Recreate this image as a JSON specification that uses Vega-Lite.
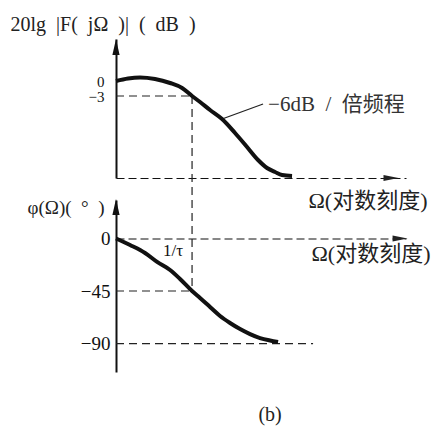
{
  "$schema": "https://vega.github.io/schema/vega-lite/v6.json",
  "background": "white",
  "padding": {"left": 10, "top": 14, "right": 2, "bottom": 5},
  "bounds": "flush",
  "spacing": 22,
  "config": {
    "view": {"stroke": null},
    "font": "Liberation Serif",
    "axis": {
      "grid": false,
      "ticks": false,
      "tickSize": 0,
      "labelFont": "Liberation Serif",
      "titleFont": "Liberation Serif, Noto Sans CJK SC",
      "titleFontWeight": "normal",
      "labelColor": "#111",
      "titleColor": "#222",
      "domainColor": "#111"
    }
  },
  "datasets": {
    "mag": [
      {"omega": 0.1, "value": 0},
      {"omega": 0.144, "value": 0.5},
      {"omega": 0.207, "value": 0.7},
      {"omega": 0.326, "value": 0.4},
      {"omega": 0.514, "value": -0.4},
      {"omega": 0.739, "value": -1.4},
      {"omega": 1.0, "value": -3.0},
      {"omega": 1.274, "value": -4.2},
      {"omega": 1.724, "value": -5.8},
      {"omega": 2.48, "value": -7.6},
      {"omega": 3.675, "value": -10.4},
      {"omega": 5.287, "value": -13.2},
      {"omega": 7.375, "value": -15.8},
      {"omega": 9.685, "value": -17.4},
      {"omega": 12.34, "value": -18.2},
      {"omega": 15.25, "value": -18.8},
      {"omega": 20.64, "value": -19.0}
    ],
    "magRefs": [
      {"omega": 0.1, "omega2": 1, "value": -3, "value2": -3},
      {"omega": 1, "omega2": 1, "value": -3, "value2": -23.8}
    ],
    "magNotes": [
      {"omega": 10, "value": -4.8, "label": "−6dB \u00a0/\u00a0 倍频程"}
    ],
    "magLeader": [
      {"omega": 2.48, "omega2": 8.58, "value": -7.6, "value2": -4.6}
    ],
    "phase": [
      {"omega": 0.1, "value": 0},
      {"omega": 0.153, "value": -5.6},
      {"omega": 0.241, "value": -12.4},
      {"omega": 0.347, "value": -20.1},
      {"omega": 0.514, "value": -27.0},
      {"omega": 0.695, "value": -34.7},
      {"omega": 1.0, "value": -45.0},
      {"omega": 1.274, "value": -51.0},
      {"omega": 1.724, "value": -58.7},
      {"omega": 2.334, "value": -66.4},
      {"omega": 3.159, "value": -72.4},
      {"omega": 4.276, "value": -77.6},
      {"omega": 5.788, "value": -81.9},
      {"omega": 7.834, "value": -85.3},
      {"omega": 10.6, "value": -87.4},
      {"omega": 13.51, "value": -88.7}
    ],
    "phaseRefs": [
      {"omega": 0.1, "omega2": 1, "value": -45, "value2": -45},
      {"omega": 1, "omega2": 1, "value": 33, "value2": -45},
      {"omega": 0.1, "omega2": 39, "value": -90, "value2": -90}
    ],
    "phaseNotes": [
      {"omega": 0.563, "value": -10.7, "label": "1/τ"}
    ],
    "caption": [
      {"omega": 10.6, "value": -151, "label": "(b)"}
    ]
  },
  "vconcat": [
    {
      "width": 290,
      "height": 139,
      "encoding": {
        "x": {
          "field": "omega",
          "type": "quantitative",
          "scale": {"type": "log", "domain": [0.1, 650]},
          "axis": {
            "orient": "bottom",
            "domainDash": [8, 4],
            "domainWidth": 1.2,
            "labels": false,
            "title": "Ω(对数刻度)",
            "titleFontSize": 22,
            "titleAngle": 0,
            "titleAlign": "left",
            "titleBaseline": "middle",
            "titleX": 192,
            "titleY": 22
          }
        },
        "y": {
          "field": "value",
          "type": "quantitative",
          "scale": {"domain": [-19.4, 8.4]},
          "axis": {
            "values": [0, -3],
            "domainWidth": 2,
            "labelFontSize": 15,
            "labelPadding": 12,
            "title": "20lg\u00a0 |F(\u00a0 jΩ\u00a0 )|\u00a0 (\u00a0 dB\u00a0 )",
            "titleFont": "Liberation Serif",
            "titleFontSize": 20,
            "titleAngle": 0,
            "titleAlign": "left",
            "titleBaseline": "middle",
            "titleX": -106,
            "titleY": -15
          }
        }
      },
      "layer": [
        {
          "data": {"name": "magRefs"},
          "mark": {"type": "rule", "color": "#222", "strokeWidth": 1.2, "strokeDash": [8, 5]},
          "encoding": {"x2": {"field": "omega2"}, "y2": {"field": "value2"}}
        },
        {
          "data": {"name": "magLeader"},
          "mark": {"type": "rule", "color": "#222", "strokeWidth": 1.3},
          "encoding": {"x2": {"field": "omega2"}, "y2": {"field": "value2"}}
        },
        {
          "data": {"name": "mag"},
          "mark": {"type": "line", "color": "#111", "strokeWidth": 4, "interpolate": "monotone"}
        },
        {
          "data": {"name": "magNotes"},
          "mark": {"type": "text", "align": "left", "baseline": "middle", "font": "Liberation Serif, Noto Sans CJK SC", "fontSize": 21, "color": "#333"},
          "encoding": {"text": {"field": "label"}}
        },
        {
          "data": {"values": [{"omega": 0.1, "value": 6.8}]},
          "mark": {"type": "point", "shape": "M0,-1L0.45,1L-0.45,1Z", "filled": true, "opacity": 1, "size": 256, "color": "#111"}
        },
        {
          "data": {"values": [{"omega": 413, "value": -19.4}]},
          "mark": {"type": "point", "shape": "M1,0L-1,-0.4L-1,0.4Z", "filled": true, "opacity": 1, "size": 225, "color": "#222"}
        }
      ]
    },
    {
      "width": 290,
      "height": 172,
      "encoding": {
        "x": {
          "field": "omega",
          "type": "quantitative",
          "scale": {"type": "log", "domain": [0.1, 650]},
          "axis": {
            "orient": "top",
            "offset": -38.5,
            "domainDash": [8, 4],
            "domainWidth": 1.2,
            "labels": false,
            "title": "Ω(对数刻度)",
            "titleFontSize": 22,
            "titleAngle": 0,
            "titleAlign": "left",
            "titleBaseline": "middle",
            "titleX": 195,
            "titleY": 15
          }
        },
        "y": {
          "field": "value",
          "type": "quantitative",
          "scale": {"domain": [-114.4, 33]},
          "axis": {
            "values": [0, -45, -90],
            "domainWidth": 2,
            "labelFontSize": 19,
            "labelPadding": 6,
            "title": "φ(Ω)(\u00a0 °\u00a0 )",
            "titleFont": "Liberation Serif",
            "titleFontSize": 19,
            "titleAngle": 0,
            "titleAlign": "left",
            "titleBaseline": "middle",
            "titleX": -89,
            "titleY": 7
          }
        }
      },
      "layer": [
        {
          "data": {"name": "phaseRefs"},
          "mark": {"type": "rule", "color": "#222", "strokeWidth": 1.2, "strokeDash": [8, 5]},
          "encoding": {"x2": {"field": "omega2"}, "y2": {"field": "value2"}}
        },
        {
          "data": {"name": "phase"},
          "mark": {"type": "line", "color": "#111", "strokeWidth": 4, "interpolate": "monotone"}
        },
        {
          "data": {"name": "phaseNotes"},
          "mark": {"type": "text", "align": "center", "baseline": "middle", "font": "Liberation Serif", "fontSize": 17, "color": "#111"},
          "encoding": {"text": {"field": "label"}}
        },
        {
          "data": {"name": "caption"},
          "mark": {"type": "text", "align": "center", "baseline": "middle", "font": "Liberation Serif", "fontSize": 20, "color": "#222"},
          "encoding": {"text": {"field": "label"}}
        },
        {
          "data": {"values": [{"omega": 0.1, "value": 27}]},
          "mark": {"type": "point", "shape": "M0,-1L0.45,1L-0.45,1Z", "filled": true, "opacity": 1, "size": 256, "color": "#111"}
        },
        {
          "data": {"values": [{"omega": 543, "value": 0}]},
          "mark": {"type": "point", "shape": "M1,0L-1,-0.4L-1,0.4Z", "filled": true, "opacity": 1, "size": 225, "color": "#222"}
        }
      ]
    }
  ]
}
